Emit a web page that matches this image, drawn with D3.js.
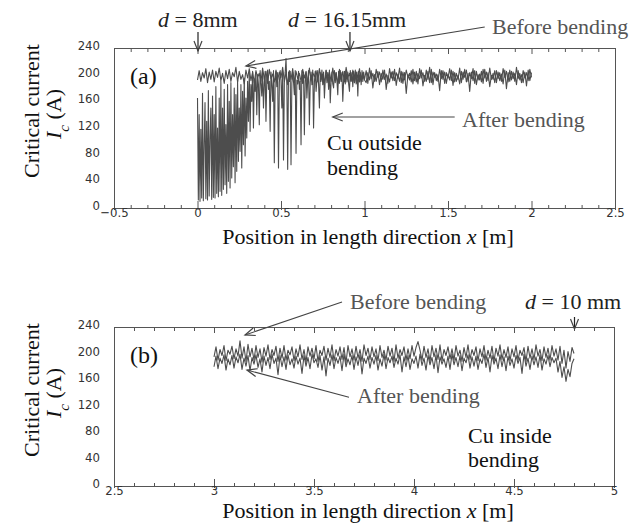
<!DOCTYPE html>
<html><head><meta charset="utf-8">
<script src="https://cdn.jsdelivr.net/npm/d3@7"></script>
<style>
html,body{margin:0;padding:0;background:#fff;}
svg{display:block;}
</style></head><body>
<svg id="chart" width="641" height="523"></svg>
<script>
// ---------- tick labels ----------
const yTicks = [0, 40, 80, 120, 160, 200, 240];
const yTickLabels = ["0", "40", "80", "120", "160", "200", "240"];
const topXTicks = [-0.5, 0, 0.5, 1, 1.5, 2, 2.5];
const topXTickLabels = ["\u22120.5", "0", "0.5", "1", "1.5", "2", "2.5"];
const botXTicks = [2.5, 3, 3.5, 4, 4.5, 5];
const botXTickLabels = ["2.5", "3", "3.5", "4", "4.5", "5"];

// ---------- (a) Cu outside bending ----------
const topBeforeStart = 0, topBeforeStep = 0.01;
const topBefore = [
192,206,190,203,195,209,188,204,193,207,
189,205,196,210,191,202,187,206,194,208,
190,203,197,211,189,205,193,200,186,207,
195,209,191,204,188,206,196,202,190,210,
193,205,187,208,194,201,189,207,192,204,
196,211,190,203,185,206,193,209,188,205,
194,202,190,208,195,204,187,210,192,203,
197,206,189,209,193,201,188,207,195,204,
190,210,194,203,186,208,192,205,189,211,
196,202,191,207,188,204,195,209,190,203,
193,206,187,210,194,202,190,208,196,204,
189,207,193,201,187,209,195,205,191,203,
194,210,188,204,192,207,196,202,189,208,
191,205,186,209,195,203,190,207,193,211,
188,204,196,201,190,208,194,206,187,203,
195,209,191,205,189,202,193,210,188,204,
196,207,190,203,194,209,187,205,192,201,
189,208,195,204,191,210,193,202,188,206,
194,203,190,209,196,205,189,207,192,204,
190,211,194,202,188,206,195,203,191,208,
196];

const topAfterNearStart = 0, topAfterNearStep = 0.005;
const topAfterNear = [
165,12,140,10,118,15,172,11,95,158,
14,130,12,176,18,105,150,13,168,16,
140,15,182,22,120,17,165,25,190,19,
150,28,178,35,125,22,185,40,160,30,
188,45,140,62,180,38,170,55,192,70,
150,85,185,60,175,95,195,78,165,105,
190,130,203,115,185,160,205,120,192,175,
203,140,200,185,125,206,188,168,204,150,
186,205,130,194,207,178,190,115,204,185,
160,206,68,190,205,182,203,60,188,206,
192,150,206,72,188,203,224,186,58,204,
190,205,65,187,204,189,170,206,82,192,
186,205,178,190,95,206,187,204,110,190,
205,165,192,206,125,188,204,185,207,120,
189,205,175,191,206,186,150,203,190,207,
185,204,165,192,206,188,203,178,207,158,
190,204,186,180,206,188,203,191,170,205,
187,206,190,203,160,191,205,186,207,189,
204,186,175,206,190,203,182,205,188,207,
186,204,168,205,189,203,185,206,190,204,
192];

const topAfterFarStart = 1.01, topAfterFarStep = 0.01;
const topAfterFar = [
188,203,192,206,180,200,190,205,185,202,
193,207,178,199,189,204,191,208,184,201,
190,205,187,203,172,200,192,206,186,204,
189,202,194,207,183,199,190,205,188,208,
185,203,191,200,176,206,193,204,187,201,
192,207,184,203,190,199,186,205,193,208,
189,202,175,204,191,206,185,200,192,205,
187,208,190,203,182,199,193,206,188,204,
191,201,186,207,179,203,190,205,194,202,
185,206,192,200,188,204,183,207,191,203];

// ---------- (b) Cu inside bending ----------
const botBeforeStart = 3.0, botBeforeStep = 0.01;
const botBefore = [
195,210,190,206,197,212,189,205,199,211,
192,207,196,219,193,210,188,214,195,208,
190,212,194,207,187,209,196,213,191,206,
197,211,188,208,193,212,190,205,198,210,
189,207,195,213,191,206,187,210,196,208,
192,212,188,205,197,211,190,208,194,213,
189,206,196,210,191,209,186,212,195,207,
190,211,193,206,188,213,197,208,191,210,
195,207,189,212,194,205,190,211,196,208,
188,213,193,206,197,210,190,207,192,212,
196,209,218,205,190,211,194,207,188,212,
195,208,191,213,189,206,197,210,192,207,
190,212,196,205,188,209,194,213,191,206,
197,210,189,207,195,212,190,205,193,211,
188,208,196,213,191,206,194,210,189,207,
195,212,190,205,197,209,188,211,193,207,
191,213,196,206,189,210,194,208,190,212,
196,207,190,211,185,205,178,203,188,209,
200];

const botAfterStart = 3.0, botAfterStep = 0.01;
const botAfter = [
180,196,177,193,185,198,175,192,183,197,
178,195,186,199,176,193,181,197,174,194,
184,198,179,192,172,196,182,194,177,199,
185,193,168,197,180,195,176,198,183,192,
178,196,184,193,170,197,181,194,177,199,
186,192,179,197,175,195,166,193,182,198,
177,194,185,196,174,199,180,192,183,197,
176,195,182,198,169,193,185,196,178,194,
184,197,175,192,181,199,177,194,186,196,
179,193,184,198,172,195,180,197,176,192,
185,196,178,199,182,193,175,197,183,194,
177,198,171,195,184,192,179,196,176,199,
183,194,180,197,174,193,186,198,178,195,
181,196,176,192,185,199,179,194,172,197,
184,193,177,198,180,195,174,196,182,192,
178,197,185,194,170,199,181,193,176,196,
183,195,179,198,175,192,184,197,180,194,
186,193,172,188,164,180,158,176,165,185,
192];

// ---------- drawing ----------
const svg = d3.select("#chart");
const SERIF = "'Liberation Serif','Times New Roman',serif";
const NARROW = "'Liberation Sans Narrow','DejaVu Sans Condensed','Arial Narrow',sans-serif";
const AX = "#555";
const LINE = "#4d4d4d";

const defs = svg.append("defs");
defs.append("marker").attr("id", "vhead")
  .attr("viewBox", "-12 -6 14 12").attr("refX", 0).attr("refY", 0)
  .attr("markerWidth", 14).attr("markerHeight", 12)
  .attr("markerUnits", "userSpaceOnUse").attr("orient", "auto")
  .append("path").attr("d", "M-10,-4 L0,0 L-10,4")
  .attr("fill", "none").attr("stroke", "#444").attr("stroke-width", 1.2);

function toPoints(start, step, vals) {
  return vals.map((v, i) => [start + i * step, v]);
}

function panel(cfg) {
  const g = svg.append("g").attr("transform", `translate(${cfg.left},${cfg.top})`);
  const w = cfg.width, h = cfg.height;
  const x = d3.scaleLinear().domain(cfg.xDomain).range([0, w]);
  const y = d3.scaleLinear().domain([0, 240]).range([h, 0]);

  g.append("line").attr("x1", 0).attr("x2", w).attr("y1", 0.5).attr("y2", 0.5).attr("stroke", AX);
  g.append("line").attr("x1", w + 0.5).attr("x2", w + 0.5).attr("y1", 0).attr("y2", h).attr("stroke", AX);

  const lo = Math.round(cfg.xDomain[0] * 10), hi = Math.round(cfg.xDomain[1] * 10);
  const minor = d3.range(lo, hi + 1).filter(i => i % 5 !== 0).map(i => i / 10);

  g.append("g").attr("transform", `translate(0,${h})`)
    .call(d3.axisBottom(x).tickValues(minor).tickSize(-3).tickFormat(""))
    .call(a => a.select(".domain").remove())
    .call(a => a.selectAll("line").attr("stroke", AX));
  g.append("g").attr("transform", `translate(0,${h})`)
    .call(d3.axisBottom(x).tickValues(cfg.xTicks).tickSize(0).tickPadding(0)
      .tickFormat((d, i) => cfg.xLabels[i]))
    .call(a => a.select(".domain").attr("stroke", AX))
    .call(a => a.selectAll(".tick line").attr("y1", 2).attr("y2", -7).attr("stroke", AX))
    .call(a => a.selectAll("text").attr("font-family", NARROW).attr("font-size", 13).attr("fill", "#333"));
  g.append("g")
    .call(d3.axisTop(x).tickValues(minor).tickSize(-4).tickFormat(""))
    .call(a => a.select(".domain").remove())
    .call(a => a.selectAll("line").attr("stroke", AX));
  g.append("g")
    .call(d3.axisTop(x).tickValues(cfg.xTicks).tickSize(-6).tickFormat(""))
    .call(a => a.select(".domain").remove())
    .call(a => a.selectAll("line").attr("stroke", AX));

  g.append("g")
    .call(d3.axisLeft(y).tickValues(yTicks).tickSize(0).tickPadding(14)
      .tickFormat((d, i) => yTickLabels[i]))
    .call(a => a.select(".domain").attr("stroke", AX))
    .call(a => a.selectAll("text").attr("font-family", NARROW).attr("font-size", 13)
      .attr("fill", "#333").attr("dy", "0.12em"));

  const line = d3.line().x(d => x(d[0])).y(d => y(d[1]));
  cfg.series.forEach(s => {
    g.append("path").datum(s).attr("d", line)
      .attr("fill", "none").attr("stroke", LINE).attr("stroke-width", 1.1)
      .attr("stroke-linejoin", "round");
  });

  cfg.leaders.forEach(l => {
    g.append("line").attr("x1", x(l[0])).attr("y1", y(l[1]))
      .attr("x2", x(l[2])).attr("y2", y(l[3]))
      .attr("stroke", "#444").attr("stroke-width", 1.1).attr("marker-end", "url(#vhead)");
  });
  cfg.dMarks.forEach(m => {
    g.append("line").attr("x1", x(m) + 0.5).attr("x2", x(m) + 0.5)
      .attr("y1", cfg.dArrow[0]).attr("y2", cfg.dArrow[1])
      .attr("stroke", "#222").attr("stroke-width", 1.2).attr("marker-end", "url(#vhead)");
  });
  return { g, x, y };
}

function txt(xp, yp, size, fill, parts, anchor) {
  const t = svg.append("text").attr("x", xp).attr("y", yp)
    .attr("font-family", SERIF).attr("font-size", size).attr("fill", fill)
    .attr("text-anchor", anchor || "start");
  parts.forEach(p => {
    const s = t.append("tspan").text(p[0]);
    if (p[1]) s.attr("font-style", "italic");
  });
  return t;
}

function yTitle(cy, cy2) {
  svg.append("text").attr("transform", `translate(39,${cy}) rotate(-90)`)
    .attr("text-anchor", "middle").attr("font-family", SERIF).attr("font-size", 22)
    .attr("fill", "#111").text("Critical current");
  const t = svg.append("text").attr("transform", `translate(61,${cy2}) rotate(-90)`)
    .attr("text-anchor", "middle").attr("font-family", SERIF).attr("font-size", 22).attr("fill", "#111");
  t.append("tspan").attr("font-style", "italic").text("I");
  t.append("tspan").attr("font-style", "italic").attr("font-size", 15).attr("dy", 8).text("c");
  t.append("tspan").attr("dy", -8).text(" (A)");
}

// Panel (a)
panel({
  left: 114, top: 48, width: 501, height: 160,
  xDomain: [-0.5, 2.5], xTicks: topXTicks, xLabels: topXTickLabels,
  series: [
    toPoints(topAfterNearStart, topAfterNearStep, topAfterNear)
      .concat(toPoints(topAfterFarStart, topAfterFarStep, topAfterFar)),
    toPoints(topBeforeStart, topBeforeStep, topBefore)
  ],
  leaders: [[1.72, 271.5, 0.29, 213], [1.54, 136.5, 0.81, 136.5]],
  dMarks: [0, 0.91], dArrow: [-16, 3]
});
txt(158, 27, 22, "#222", [["d", true], [" = 8mm"]]);
txt(288, 27, 22, "#222", [["d", true], [" = 16.15mm"]]);
txt(492, 34, 22, "#555", [["Before bending"]]);
txt(462, 127, 22, "#555", [["After bending"]]);
txt(327, 150, 22, "#111", [["Cu outside"]]);
txt(327, 175, 22, "#111", [["bending"]]);
txt(130, 84, 24, "#111", [["(a)"]]);
txt(368, 244, 22, "#111", [["Position in length direction "], ["x", true], [" [m]"]], "middle");
yTitle(111, 114);

// Panel (b)
panel({
  left: 114, top: 327, width: 500, height: 159,
  xDomain: [2.5, 5], xTicks: botXTicks, xLabels: botXTickLabels,
  series: [
    toPoints(botAfterStart, botAfterStep, botAfter),
    toPoints(botBeforeStart, botBeforeStep, botBefore)
  ],
  leaders: [[3.64, 277.7, 3.155, 228], [3.675, 134, 3.165, 175]],
  dMarks: [4.8], dArrow: [-10, 2]
});
txt(350, 309, 22, "#555", [["Before bending"]]);
txt(525, 309, 22, "#222", [["d", true], [" = 10 mm"]]);
txt(357, 403, 22, "#555", [["After bending"]]);
txt(468, 443, 22, "#111", [["Cu inside"]]);
txt(468, 467, 22, "#111", [["bending"]]);
txt(130, 363, 24, "#111", [["(b)"]]);
txt(368, 518, 22, "#111", [["Position in length direction "], ["x", true], [" [m]"]], "middle");
yTitle(390, 393);
</script>
</body></html>
